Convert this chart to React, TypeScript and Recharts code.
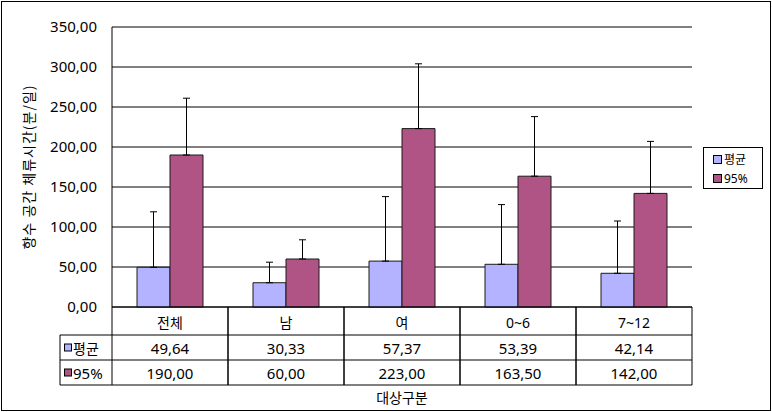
import React from "react";
import {
  BarChart,
  Bar,
  XAxis,
  YAxis,
  CartesianGrid,
  ErrorBar,
  Label,
} from "recharts";

const categories = ["전체", "남", "여", "0~6", "7~12"];
const meanValues = [49.64, 30.33, 57.37, 53.39, 42.14];
const p95Values = [190.0, 60.0, 223.0, 163.5, 142.0];
const meanUpper = [119, 56, 138, 128, 107.5];
const p95Upper = [261, 84, 304, 238, 207];
const yTicks = [0, 50, 100, 150, 200, 250, 300, 350];
const seriesNames = ["평균", "95%"];

const MEAN_COLOR = "#B3B3FF";
const P95_COLOR = "#B05485";
const FONT = "'Noto Sans', 'Noto Sans CJK KR', sans-serif";
const KFONT = "'Noto Sans CJK KR', sans-serif";

const W = 772;
const H = 412;
const PLOT_LEFT = 112;
const PLOT_RIGHT_MARGIN = 80;
const PLOT_TOP = 27;
const PLOT_BOTTOM_MARGIN = 105;
const PLOT_W = W - PLOT_LEFT - PLOT_RIGHT_MARGIN;
const ROW_H = [28, 25, 25];

const data = categories.map((name, i) => ({
  name,
  mean: meanValues[i],
  p95: p95Values[i],
  meanErr: [0, meanUpper[i] - meanValues[i]],
  p95Err: [0, p95Upper[i] - p95Values[i]],
}));

const fmt = (v: number) => v.toFixed(2).replace(".", ",");

const TableTick = (props: any) => {
  const { x, y, index } = props;
  const cw = PLOT_W / categories.length;
  const left = x - cw / 2;
  const right = x + cw / 2;
  const r1 = y + ROW_H[0];
  const r2 = r1 + ROW_H[1];
  const r3 = r2 + ROW_H[2];
  const i = index as number;
  return (
    <g>
      <line x1={left} y1={y} x2={left} y2={r3} stroke="#000" />
      <line x1={right} y1={y} x2={right} y2={r3} stroke="#000" />
      <line x1={left} y1={r1} x2={right} y2={r1} stroke="#000" />
      <line x1={left} y1={r2} x2={right} y2={r2} stroke="#000" />
      <line x1={left} y1={r3} x2={right} y2={r3} stroke="#000" />
      <text x={x} y={(y + r1) / 2 + 1} textAnchor="middle" dominantBaseline="central" fontSize={14} fontFamily={FONT} fill="#000">
        {categories[i]}
      </text>
      <text x={x} y={(r1 + r2) / 2} textAnchor="middle" dominantBaseline="central" fontSize={15} fontFamily={FONT} fill="#000">
        {fmt(meanValues[i])}
      </text>
      <text x={x} y={(r2 + r3) / 2} textAnchor="middle" dominantBaseline="central" fontSize={15} fontFamily={FONT} fill="#000">
        {fmt(p95Values[i])}
      </text>
      {i === 0 && (
        <g>
          <line x1={left - 52} y1={r1} x2={left} y2={r1} stroke="#000" />
          <line x1={left - 52} y1={r2} x2={left} y2={r2} stroke="#000" />
          <line x1={left - 52} y1={r3} x2={left} y2={r3} stroke="#000" />
          <line x1={left - 52} y1={r1} x2={left - 52} y2={r3} stroke="#000" />
          <rect x={left - 47.5} y={(r1 + r2) / 2 - 3.5} width={7} height={7} fill={MEAN_COLOR} stroke="#000" />
          <text x={left - 39} y={(r1 + r2) / 2} dominantBaseline="central" fontSize={14} fontFamily={KFONT} fill="#000">
            {seriesNames[0]}
          </text>
          <rect x={left - 47.5} y={(r2 + r3) / 2 - 3.5} width={7} height={7} fill={P95_COLOR} stroke="#000" />
          <text x={left - 39} y={(r2 + r3) / 2} dominantBaseline="central" fontSize={15} fontFamily={FONT} fill="#000">
            {seriesNames[1]}
          </text>
        </g>
      )}
    </g>
  );
};

const LegendBox = () => (
  <div
    style={{
      position: "absolute",
      left: 703,
      top: 147,
      border: "1px solid #000",
      background: "#fff",
      width: 60,
      height: 42,
      boxSizing: "border-box",
      padding: "2px 0 0 9px",
      fontFamily: FONT,
      fontSize: 12,
      lineHeight: "19px",
      color: "#000",
    }}
  >
    {[MEAN_COLOR, P95_COLOR].map((c, i) => (
      <div key={i} style={{ display: "flex", alignItems: "center", height: 19 }}>
        <span
          style={{
            display: "inline-block",
            width: 7,
            height: 7,
            background: c,
            border: "1px solid #000",
            marginRight: 2,
          }}
        />
        <span>{seriesNames[i]}</span>
      </div>
    ))}
  </div>
);

export default function App() {
  return (
    <div style={{ position: "absolute", left: 0, top: 0, width: W, height: H, background: "#fff" }}>
      <BarChart
        width={W}
        height={H}
        data={data}
        margin={{ top: PLOT_TOP, right: PLOT_RIGHT_MARGIN, bottom: 0, left: 0 }}
        barGap={0}
        barSize={33}
      >
        <CartesianGrid vertical={false} stroke="#000" strokeOpacity={1} />
        <XAxis
          dataKey="name"
          height={PLOT_BOTTOM_MARGIN}
          axisLine={{ stroke: "#000" }}
          tickLine={false}
          tickSize={0}
          tickMargin={0}
          interval={0}
          tick={<TableTick />}
        >
          <Label value="대상구분" position="insideBottom" offset={9} fontSize={14} fontFamily={KFONT} fill="#000" />
        </XAxis>
        <YAxis
          width={PLOT_LEFT}
          domain={[0, 350]}
          ticks={yTicks}
          tickFormatter={fmt}
          axisLine={{ stroke: "#000" }}
          tickLine={false}
          tickSize={0}
          tickMargin={15}
          tick={{ fontSize: 15, fontFamily: FONT, fill: "#000" }}
        >
          <Label
            value="향수 공간 체류시간(분/일)"
            angle={-90}
            position="insideLeft"
            offset={29}
            style={{ textAnchor: "middle", letterSpacing: "1px" }}
            fontSize={14}
            fontFamily={KFONT}
            fill="#000"
          />
        </YAxis>
        <Bar dataKey="mean" name={seriesNames[0]} fill={MEAN_COLOR} stroke="#1a1a1a" strokeWidth={1} isAnimationActive={false}>
          <ErrorBar dataKey="meanErr" direction="y" width={3.5} stroke="#000" strokeWidth={1} isAnimationActive={false} />
        </Bar>
        <Bar dataKey="p95" name={seriesNames[1]} fill={P95_COLOR} stroke="#1a1a1a" strokeWidth={1} isAnimationActive={false}>
          <ErrorBar dataKey="p95Err" direction="y" width={3.5} stroke="#000" strokeWidth={1} isAnimationActive={false} />
        </Bar>
      </BarChart>
      <LegendBox />
      <div
        style={{
          position: "absolute",
          left: 1,
          top: 1,
          width: 770,
          height: 410,
          border: "1px solid #000",
          boxSizing: "border-box",
          pointerEvents: "none",
        }}
      />
    </div>
  );
}
